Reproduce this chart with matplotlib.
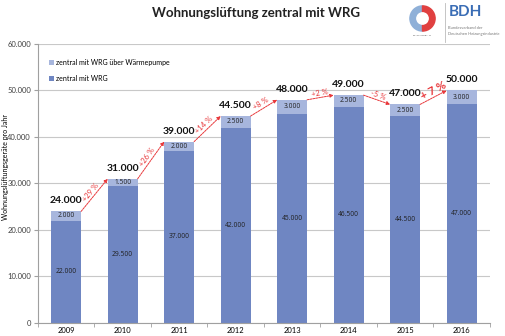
import numpy as np
import matplotlib
matplotlib.use("Agg")
import matplotlib.pyplot as plt
from matplotlib.patches import Wedge, Circle
from matplotlib.ticker import FuncFormatter, FixedLocator

plt.rcParams['font.family'] = ['Lato', 'DejaVu Sans']

# units per year (Wohnungslüftungsgeräte)
years = ['2009', '2010', '2011', '2012', '2013', '2014', '2015', '2016']
central_wrg = [22000, 29500, 37000, 42000, 45000, 46500, 44500, 47000]
central_wp = [2000, 1500, 2000, 2500, 3000, 2500, 2500, 3000]
growth = ['+29 %', '+26 %', '+14 %', '+8 %', '+2 %', '-5 %', '+ 7 %']

BLUE = '#6F86C2'
LIGHT = '#A7B6DD'
RED = '#E8373A'


def de_fmt(v, pos=None):
    return f'{v:,.0f}'.replace(',', '.')


fig = plt.figure(figsize=(5.06, 3.36), dpi=100)
ax = fig.add_axes([0.075, 0.039, 0.893, 0.830])

x = np.arange(len(years))
w = 0.53
totals = np.array(central_wrg) + np.array(central_wp)

ax.bar(x, central_wrg, w, color=BLUE, label='zentral mit WRG', zorder=2)
ax.bar(x, central_wp, w, bottom=central_wrg, color=LIGHT,
       label='zentral mit WRG über Wärmepumpe', zorder=2)

ax.set_xlim(-0.5, len(years) - 0.5)
ax.set_ylim(0, 60000)
ax.set_yticks(np.arange(0, 60001, 10000))
ax.yaxis.set_major_formatter(FuncFormatter(de_fmt))
ax.grid(axis='y', color='#C8C8C8', linewidth=0.8, zorder=0)
ax.set_axisbelow(True)

ax.set_xticks(x)
ax.set_xticklabels(years)
ax.xaxis.set_minor_locator(FixedLocator(np.arange(-0.5, len(years), 1)))
ax.tick_params(axis='x', which='major', length=0, labelsize=5.5, pad=3)
ax.tick_params(axis='x', which='minor', length=3, color='#A0A0A0')
ax.tick_params(axis='y', length=3, color='#A0A0A0', labelsize=5.5,
               labelcolor='#404040', pad=2)
for s in ['top', 'right']:
    ax.spines[s].set_visible(False)
ax.spines['left'].set_color('#A0A0A0')
ax.spines['bottom'].set_color('#A0A0A0')

ax.set_ylabel('Wohnungslüftungsgeräte pro Jahr', fontsize=5)
ax.yaxis.set_label_coords(-0.064, 0.56)

# values inside the segments
small = dict(ha='center', va='center', fontsize=4.8, color='#202020',
             family=['Open Sans', 'DejaVu Sans'], zorder=3)
for i in range(len(years)):
    ax.text(x[i], central_wrg[i] / 2, de_fmt(central_wrg[i]), **small)
    ax.text(x[i], central_wrg[i] + central_wp[i] / 2, de_fmt(central_wp[i]), **small)
    ax.text(x[i], totals[i] + 1300, de_fmt(totals[i]), ha='center',
            va='bottom', fontsize=7.5, fontweight='bold', color='#111111')

# growth arrows between bar tops
fig.canvas.draw()
for i, lab in enumerate(growth):
    x0, y0 = x[i] + w / 2, totals[i]
    x1, y1 = x[i + 1] - w / 2, totals[i + 1]
    ax.annotate('', xy=(x1, y1), xytext=(x0, y0),
                arrowprops=dict(arrowstyle='-|>', color=RED, lw=0.7,
                                linestyle=(0, (2, 1)), mutation_scale=5,
                                shrinkA=0, shrinkB=0), zorder=4)
    p0 = ax.transData.transform((x0, y0))
    p1 = ax.transData.transform((x1, y1))
    ang = np.degrees(np.arctan2(p1[1] - p0[1], p1[0] - p0[0]))
    big = lab.startswith('+ 7')
    t = 0.62 if big else 0.5
    off = 0.5 if big else 1.0
    ax.annotate(lab, xy=(x0 + t * (x1 - x0), y0 + t * (y1 - y0)),
                xytext=(-off * np.sin(np.radians(ang)), off * np.cos(np.radians(ang))),
                textcoords='offset points', ha='center', va='bottom',
                rotation=ang, rotation_mode='anchor', color=RED,
                fontsize=8 if big else 5.5, fontweight='bold' if big else 'normal')

handles, labels = ax.get_legend_handles_labels()
ax.legend(handles[::-1], labels[::-1], loc='upper left', bbox_to_anchor=(0.01, 0.97),
          frameon=False, fontsize=5, handlelength=0.7, handleheight=0.7,
          labelspacing=1.3, handletextpad=0.4)

fig.text(0.506, 0.962, 'Wohnungslüftung zentral mit WRG', ha='center',
         va='center', fontsize=9.5, fontweight='bold', color='#222222')

# association logo
lax = fig.add_axes([0.805, 0.885, 0.06, 0.105])
lax.set_xlim(-1.2, 1.2)
lax.set_ylim(-1.6, 1.2)
lax.set_aspect('equal')
lax.axis('off')
lax.add_patch(Wedge((0, 0), 1, 90, 270, color='#8FB0D8'))
lax.add_patch(Wedge((0, 0), 1, -90, 90, color='#E04040'))
lax.add_patch(Circle((0, 0), 0.45, color='white'))
lax.text(0, -1.35, 'BUNDESVERBAND', ha='center', va='center', fontsize=1.5, color='#666666')

fig.text(0.886, 0.965, 'BDH', ha='left', va='center', fontsize=11,
         fontweight='bold', color='#3A6DB5')
fig.text(0.886, 0.918, 'Bundesverband der', ha='left', va='center',
         fontsize=2.9, color='#777777')
fig.text(0.886, 0.898, 'Deutschen Heizungsindustrie', ha='left', va='center',
         fontsize=2.9, color='#777777')
fig.add_artist(plt.Line2D([0.879, 0.879], [0.875, 0.99], color='#BBBBBB', lw=0.6))

fig.savefig('out.png', dpi=100)
